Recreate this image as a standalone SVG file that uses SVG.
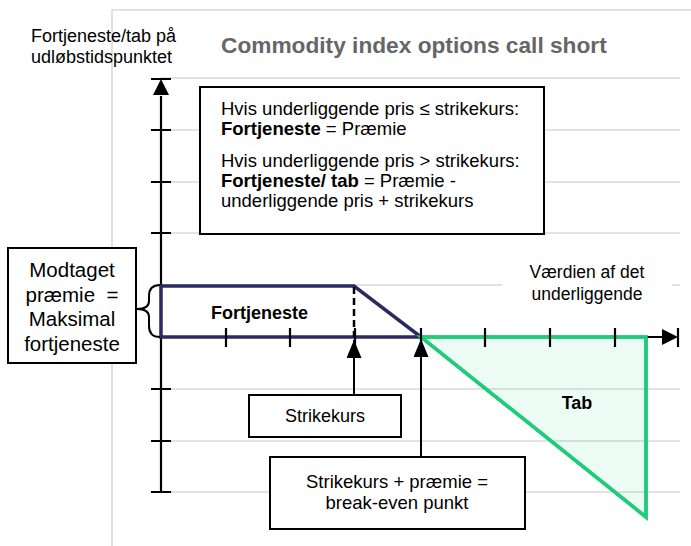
<svg xmlns="http://www.w3.org/2000/svg" width="691" height="546" viewBox="0 0 691 546">
<defs>
<style>
text{font-family:"Liberation Sans",Arial,sans-serif;fill:#000}
.grid{stroke:#d9d9d9;stroke-width:1.6;fill:none}
.ax{stroke:#000;stroke-width:2.2;fill:none}
.box{fill:#fff;stroke:#000;stroke-width:2}
.t18{font-size:18px}
.b{font-weight:bold}
.mid{text-anchor:middle}
.navy{stroke:#2b2a5e;stroke-width:3.5;fill:#fff;stroke-linejoin:miter}
.green{stroke:#1fcc7c;stroke-width:3.5;fill:#1fcc7c;fill-opacity:0.08}
.conn{stroke:#000;stroke-width:2;fill:none}
</style>
<marker id="ah" viewBox="0 0 10 10" refX="10" refY="5" markerWidth="18" markerHeight="15" markerUnits="userSpaceOnUse" orient="auto" preserveAspectRatio="none">
<path d="M0,0 L10,5 L0,10 Z" fill="#000"/>
</marker>
</defs>
<rect width="691" height="546" fill="#fff"/>
<g id="frame">
<path class="grid" d="M112,546 V10 H691"/>
<path class="grid" d="M161,78 H680 M161,130 H680 M161,182 H680 M161,233 H680 M161,285 H680 M161,389 H680 M161,441 H680 M161,492 H680"/>
</g>
<g id="title">
<text x="221" y="53" class="b" style="font-size:22.7px;fill:#666">Commodity index options call short</text>
</g>
<g id="y-label">
<text x="31" y="42" class="t18">Fortjeneste/tab på</text>
<text x="31" y="63" class="t18">udløbstidspunktet</text>
</g>
<g id="x-label">
<rect x="502" y="262" width="170" height="44" fill="#fff"/>
<text x="587" y="278" class="mid" style="font-size:17.5px">Værdien af det</text>
<text x="587" y="300" class="mid" style="font-size:17.5px">underliggende</text>
</g>
<g id="loss-region">
<polygon class="green" points="421,337 646,337 646,517"/>
<text x="577" y="409" class="t18 b mid">Tab</text>
</g>
<g id="axes">
<path class="ax" d="M161,96 V492 M151,492 H171 M151,79 H171 M151,130 H171 M151,182 H171 M151,233 H171 M151,389 H171 M151,441 H171"/>
<path d="M161,79 L153,95 L169,95 Z" fill="#000"/>
<path class="ax" d="M646,337 H664 M678,328 V347"/>
<path d="M678,337 L662,329 L662,345 Z" fill="#000"/>
</g>
<g id="profit-region">
<polygon class="navy" points="161,286 354,286 421,337 161,337"/>
<path d="M354,287 V337" stroke="#000" stroke-width="2.5" stroke-dasharray="7,4" fill="none"/>
<text x="211" y="319" class="t18 b">Fortjeneste</text>
</g>
<g id="loss-edge">
<path d="M421,337 H646 V517 Z" fill="none" stroke="#1fcc7c" stroke-width="3.5" stroke-linejoin="miter"/>
</g>
<g id="x-ticks">
<path class="ax" d="M226,328 V347 M290,328 V347 M355,328 V347 M421,328 V347 M485,328 V347 M550,328 V347 M615,328 V347"/>
</g>
<g id="info-box">
<rect class="box" x="200" y="87" width="344" height="147"/>
<text x="221" y="115" style="font-size:18.5px">Hvis underliggende pris ≤ strikekurs:</text>
<text x="221" y="135" style="font-size:18.5px"><tspan class="b">Fortjeneste</tspan> = Præmie</text>
<text x="221" y="167" style="font-size:18.5px">Hvis underliggende pris &gt; strikekurs:</text>
<text x="221" y="187" style="font-size:18.5px"><tspan class="b">Fortjeneste/ tab</tspan> = Præmie -</text>
<text x="221" y="207" style="font-size:18.5px">underliggende pris + strikekurs</text>
</g>
<g id="premium-box">
<rect class="box" x="8" y="248" width="128" height="115"/>
<text x="72" y="277" class="mid" style="font-size:20.5px">Modtaget</text>
<text x="72" y="302" class="mid" style="font-size:20.5px" xml:space="preserve">præmie  =</text>
<text x="72" y="326" class="mid" style="font-size:20.5px">Maksimal</text>
<text x="72" y="351" class="mid" style="font-size:20.5px">fortjeneste</text>
</g>
<g id="strike-box">
<rect class="box" x="249" y="395" width="152" height="42"/>
<text x="325" y="422" class="t18 mid">Strikekurs</text>
</g>
<g id="breakeven-box">
<rect class="box" x="270" y="457" width="255" height="72"/>
<text x="397" y="488" class="mid" style="font-size:18.5px">Strikekurs + præmie =</text>
<text x="397" y="509" class="mid" style="font-size:18.5px">break-even punkt</text>
</g>
<g id="connectors">
<path class="conn" d="M354,395 V340" marker-end="url(#ah)"/>
<path class="conn" d="M421,457 V339" marker-end="url(#ah)"/>
<path class="conn" d="M160,285 Q149,285 149,296 L149,301 Q149,309 137,309 Q149,309 149,317 L149,326 Q149,337 160,337"/>
</g>
</svg>
